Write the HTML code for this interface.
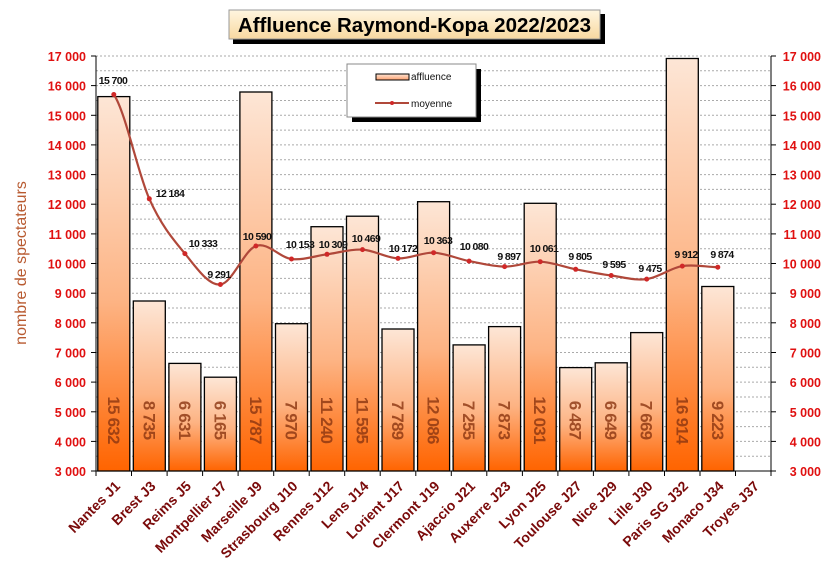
<!DOCTYPE html>
<html><head><meta charset="utf-8"><style>
html,body{margin:0;padding:0;background:#fff;}
svg{display:block;font-family:"Liberation Sans",sans-serif;}
.yl{font-size:12.5px;font-weight:bold;fill:#e01010;}
.xl{font-size:14px;font-weight:bold;fill:#7a0a0a;}
.ll{font-size:10.5px;font-weight:bold;fill:#111;letter-spacing:-0.6px;}
.bv{font-size:17px;font-weight:bold;fill:#8a3410;fill-opacity:0.8;letter-spacing:-0.8px;}
</style></head><body>
<svg width="825" height="571" viewBox="0 0 825 571">
<defs>
<linearGradient id="bg" x1="0" y1="0" x2="0" y2="1">
<stop offset="0" stop-color="#fde6d6"/><stop offset="0.55" stop-color="#fdb383"/><stop offset="1" stop-color="#ff6400"/>
</linearGradient>
<linearGradient id="tg" x1="0" y1="0" x2="0" y2="1">
<stop offset="0" stop-color="#fff6e0"/><stop offset="1" stop-color="#f8d8a0"/>
</linearGradient>
<linearGradient id="lg" x1="0" y1="0" x2="0" y2="1">
<stop offset="0" stop-color="#fde6d6"/><stop offset="1" stop-color="#fda070"/>
</linearGradient>
</defs>
<g stroke="#aaa" stroke-width="1" stroke-dasharray="2,2">
<line x1="96" x2="771" y1="56" y2="56"/><line x1="96" x2="771" y1="70.8" y2="70.8"/>
<line x1="96" x2="771" y1="85.6" y2="85.6"/><line x1="96" x2="771" y1="100.5" y2="100.5"/>
<line x1="96" x2="771" y1="115.3" y2="115.3"/><line x1="96" x2="771" y1="130.1" y2="130.1"/>
<line x1="96" x2="771" y1="144.9" y2="144.9"/><line x1="96" x2="771" y1="159.8" y2="159.8"/>
<line x1="96" x2="771" y1="174.6" y2="174.6"/><line x1="96" x2="771" y1="189.4" y2="189.4"/>
<line x1="96" x2="771" y1="204.2" y2="204.2"/><line x1="96" x2="771" y1="219.1" y2="219.1"/>
<line x1="96" x2="771" y1="233.9" y2="233.9"/><line x1="96" x2="771" y1="248.7" y2="248.7"/>
<line x1="96" x2="771" y1="263.5" y2="263.5"/><line x1="96" x2="771" y1="278.4" y2="278.4"/>
<line x1="96" x2="771" y1="293.2" y2="293.2"/><line x1="96" x2="771" y1="308" y2="308"/>
<line x1="96" x2="771" y1="322.8" y2="322.8"/><line x1="96" x2="771" y1="337.7" y2="337.7"/>
<line x1="96" x2="771" y1="352.5" y2="352.5"/><line x1="96" x2="771" y1="367.3" y2="367.3"/>
<line x1="96" x2="771" y1="382.1" y2="382.1"/><line x1="96" x2="771" y1="397" y2="397"/>
<line x1="96" x2="771" y1="411.8" y2="411.8"/><line x1="96" x2="771" y1="426.6" y2="426.6"/>
<line x1="96" x2="771" y1="441.4" y2="441.4"/><line x1="96" x2="771" y1="456.3" y2="456.3"/>
</g>
<g fill="url(#bg)" stroke="#000" stroke-width="1.3">
<rect x="97.8" y="96.6" width="32" height="374.4"/>
<rect x="133.3" y="301" width="32" height="170"/>
<rect x="168.9" y="363.4" width="32" height="107.6"/>
<rect x="204.4" y="377.2" width="32" height="93.8"/>
<rect x="239.9" y="92" width="32" height="379"/>
<rect x="275.5" y="323.7" width="32" height="147.3"/>
<rect x="311" y="226.7" width="32" height="244.3"/>
<rect x="346.5" y="216.2" width="32" height="254.8"/>
<rect x="382" y="329" width="32" height="142"/>
<rect x="417.6" y="201.7" width="32" height="269.3"/>
<rect x="453.1" y="344.9" width="32" height="126.1"/>
<rect x="488.6" y="326.6" width="32" height="144.4"/>
<rect x="524.2" y="203.3" width="32" height="267.7"/>
<rect x="559.7" y="367.6" width="32" height="103.4"/>
<rect x="595.2" y="362.8" width="32" height="108.2"/>
<rect x="630.7" y="332.6" width="32" height="138.4"/>
<rect x="666.3" y="58.5" width="32" height="412.5"/>
<rect x="701.8" y="286.5" width="32" height="184.5"/>
</g>
<g class="bv" text-anchor="middle">
<text transform="translate(107.8,420) rotate(90)">15 632</text>
<text transform="translate(143.3,420) rotate(90)">8 735</text>
<text transform="translate(178.9,420) rotate(90)">6 631</text>
<text transform="translate(214.4,420) rotate(90)">6 165</text>
<text transform="translate(249.9,420) rotate(90)">15 787</text>
<text transform="translate(285.5,420) rotate(90)">7 970</text>
<text transform="translate(321,420) rotate(90)">11 240</text>
<text transform="translate(356.5,420) rotate(90)">11 595</text>
<text transform="translate(392,420) rotate(90)">7 789</text>
<text transform="translate(427.6,420) rotate(90)">12 086</text>
<text transform="translate(463.1,420) rotate(90)">7 255</text>
<text transform="translate(498.6,420) rotate(90)">7 873</text>
<text transform="translate(534.2,420) rotate(90)">12 031</text>
<text transform="translate(569.7,420) rotate(90)">6 487</text>
<text transform="translate(605.2,420) rotate(90)">6 649</text>
<text transform="translate(640.7,420) rotate(90)">7 669</text>
<text transform="translate(676.3,420) rotate(90)">16 914</text>
<text transform="translate(711.8,420) rotate(90)">9 223</text>
</g>
<g stroke="#000" stroke-width="1">
<line x1="96" y1="56" x2="96" y2="471"/><line x1="771" y1="56" x2="771" y2="471"/>
<line x1="96" y1="471" x2="771" y2="471"/>
<line x1="91" x2="96" y1="56" y2="56"/><line x1="91" x2="96" y1="85.6" y2="85.6"/><line x1="91" x2="96" y1="115.3" y2="115.3"/><line x1="91" x2="96" y1="144.9" y2="144.9"/><line x1="91" x2="96" y1="174.6" y2="174.6"/><line x1="91" x2="96" y1="204.2" y2="204.2"/><line x1="91" x2="96" y1="233.9" y2="233.9"/><line x1="91" x2="96" y1="263.5" y2="263.5"/><line x1="91" x2="96" y1="293.2" y2="293.2"/><line x1="91" x2="96" y1="322.8" y2="322.8"/><line x1="91" x2="96" y1="352.5" y2="352.5"/><line x1="91" x2="96" y1="382.1" y2="382.1"/><line x1="91" x2="96" y1="411.8" y2="411.8"/><line x1="91" x2="96" y1="441.4" y2="441.4"/><line x1="91" x2="96" y1="471" y2="471"/>
<line x1="771" x2="776" y1="56" y2="56"/><line x1="771" x2="776" y1="85.6" y2="85.6"/><line x1="771" x2="776" y1="115.3" y2="115.3"/><line x1="771" x2="776" y1="144.9" y2="144.9"/><line x1="771" x2="776" y1="174.6" y2="174.6"/><line x1="771" x2="776" y1="204.2" y2="204.2"/><line x1="771" x2="776" y1="233.9" y2="233.9"/><line x1="771" x2="776" y1="263.5" y2="263.5"/><line x1="771" x2="776" y1="293.2" y2="293.2"/><line x1="771" x2="776" y1="322.8" y2="322.8"/><line x1="771" x2="776" y1="352.5" y2="352.5"/><line x1="771" x2="776" y1="382.1" y2="382.1"/><line x1="771" x2="776" y1="411.8" y2="411.8"/><line x1="771" x2="776" y1="441.4" y2="441.4"/><line x1="771" x2="776" y1="471" y2="471"/>
<line x1="96" x2="96" y1="471" y2="476"/><line x1="131.5" x2="131.5" y1="471" y2="476"/><line x1="167.1" x2="167.1" y1="471" y2="476"/><line x1="202.6" x2="202.6" y1="471" y2="476"/><line x1="238.1" x2="238.1" y1="471" y2="476"/><line x1="273.7" x2="273.7" y1="471" y2="476"/><line x1="309.2" x2="309.2" y1="471" y2="476"/><line x1="344.7" x2="344.7" y1="471" y2="476"/><line x1="380.2" x2="380.2" y1="471" y2="476"/><line x1="415.8" x2="415.8" y1="471" y2="476"/><line x1="451.3" x2="451.3" y1="471" y2="476"/><line x1="486.8" x2="486.8" y1="471" y2="476"/><line x1="522.4" x2="522.4" y1="471" y2="476"/><line x1="557.9" x2="557.9" y1="471" y2="476"/><line x1="593.4" x2="593.4" y1="471" y2="476"/><line x1="628.9" x2="628.9" y1="471" y2="476"/><line x1="664.5" x2="664.5" y1="471" y2="476"/><line x1="700" x2="700" y1="471" y2="476"/><line x1="735.5" x2="735.5" y1="471" y2="476"/><line x1="771" x2="771" y1="471" y2="476"/>
</g>
<g class="yl" text-anchor="end">
<text x="86" y="61">17 000</text><text x="86" y="90.6">16 000</text><text x="86" y="120.3">15 000</text><text x="86" y="149.9">14 000</text><text x="86" y="179.6">13 000</text><text x="86" y="209.2">12 000</text><text x="86" y="238.9">11 000</text><text x="86" y="268.5">10 000</text><text x="86" y="298.2">9 000</text><text x="86" y="327.8">8 000</text><text x="86" y="357.5">7 000</text><text x="86" y="387.1">6 000</text><text x="86" y="416.8">5 000</text><text x="86" y="446.4">4 000</text><text x="86" y="476">3 000</text>
</g>
<g class="yl" text-anchor="end">
<text x="821" y="61">17 000</text><text x="821" y="90.6">16 000</text><text x="821" y="120.3">15 000</text><text x="821" y="149.9">14 000</text><text x="821" y="179.6">13 000</text><text x="821" y="209.2">12 000</text><text x="821" y="238.9">11 000</text><text x="821" y="268.5">10 000</text><text x="821" y="298.2">9 000</text><text x="821" y="327.8">8 000</text><text x="821" y="357.5">7 000</text><text x="821" y="387.1">6 000</text><text x="821" y="416.8">5 000</text><text x="821" y="446.4">4 000</text><text x="821" y="476">3 000</text>
</g>
<text transform="translate(26,263) rotate(-90)" text-anchor="middle" font-size="16" fill="#b85a30">nombre de spectateurs</text>
<g class="xl" text-anchor="end">
<text transform="translate(121,487) rotate(-45)">Nantes J1</text>
<text transform="translate(156.5,487) rotate(-45)">Brest J3</text>
<text transform="translate(192,487) rotate(-45)">Reims J5</text>
<text transform="translate(227.5,487) rotate(-45)">Montpellier J7</text>
<text transform="translate(263,487) rotate(-45)">Marseille J9</text>
<text transform="translate(298.5,487) rotate(-45)">Strasbourg J10</text>
<text transform="translate(334,487) rotate(-45)">Rennes J12</text>
<text transform="translate(369.5,487) rotate(-45)">Lens J14</text>
<text transform="translate(405,487) rotate(-45)">Lorient J17</text>
<text transform="translate(440.5,487) rotate(-45)">Clermont J19</text>
<text transform="translate(476,487) rotate(-45)">Ajaccio J21</text>
<text transform="translate(511.5,487) rotate(-45)">Auxerre J23</text>
<text transform="translate(547,487) rotate(-45)">Lyon J25</text>
<text transform="translate(582.5,487) rotate(-45)">Toulouse J27</text>
<text transform="translate(618,487) rotate(-45)">Nice J29</text>
<text transform="translate(653.5,487) rotate(-45)">Lille J30</text>
<text transform="translate(689,487) rotate(-45)">Paris SG J32</text>
<text transform="translate(724.5,487) rotate(-45)">Monaco J34</text>
<text transform="translate(760,487) rotate(-45)">Troyes J37</text>
</g>
<path fill="none" stroke="#b0483a" stroke-width="2.2" d="M113.8,94.5 C125.6,111.9 137.5,172.3 149.3,198.8 C161.1,225.3 173.1,239.3 184.9,253.6 C196.7,267.9 208.6,285.8 220.4,284.5 C232.2,283.2 244.1,250.3 255.9,246.0 C267.7,241.7 279.7,257.6 291.5,259.0 C303.3,260.4 315.2,255.9 327.0,254.3 C338.8,252.7 350.7,248.9 362.5,249.6 C374.3,250.3 386.2,257.9 398.0,258.4 C409.8,258.9 421.8,252.3 433.6,252.7 C445.4,253.1 457.3,258.8 469.1,261.1 C480.9,263.4 492.8,266.5 504.6,266.6 C516.4,266.7 528.4,261.3 540.2,261.7 C552.0,262.1 563.9,267.0 575.7,269.3 C587.5,271.6 599.4,273.9 611.2,275.5 C623.0,277.1 634.9,280.7 646.7,279.1 C658.5,277.5 670.5,268.1 682.3,266.1 C694.1,264.1 706.0,267.0 717.8,267.2"/>
<g fill="#d02828">
<circle cx="113.8" cy="94.5" r="2.5"/><circle cx="149.3" cy="198.8" r="2.5"/><circle cx="184.9" cy="253.6" r="2.5"/><circle cx="220.4" cy="284.5" r="2.5"/><circle cx="255.9" cy="246" r="2.5"/><circle cx="291.5" cy="259" r="2.5"/><circle cx="327" cy="254.3" r="2.5"/><circle cx="362.5" cy="249.6" r="2.5"/><circle cx="398" cy="258.4" r="2.5"/><circle cx="433.6" cy="252.7" r="2.5"/><circle cx="469.1" cy="261.1" r="2.5"/><circle cx="504.6" cy="266.6" r="2.5"/><circle cx="540.2" cy="261.7" r="2.5"/><circle cx="575.7" cy="269.3" r="2.5"/><circle cx="611.2" cy="275.5" r="2.5"/><circle cx="646.7" cy="279.1" r="2.5"/><circle cx="682.3" cy="266.1" r="2.5"/><circle cx="717.8" cy="267.2" r="2.5"/>
</g>
<g class="ll" text-anchor="middle">
<text x="113" y="84">15 700</text><text x="170" y="197">12 184</text><text x="203" y="247">10 333</text><text x="219" y="278">9 291</text>
<text x="257" y="240">10 590</text><text x="300" y="248">10 153</text><text x="333" y="248">10 309</text><text x="366" y="242">10 469</text>
<text x="403" y="252">10 172</text><text x="438" y="244">10 363</text><text x="474" y="250">10 080</text><text x="509" y="260">9 897</text>
<text x="544" y="252">10 061</text><text x="580" y="260">9 805</text><text x="614" y="268">9 595</text><text x="650" y="272">9 475</text>
<text x="686" y="258">9 912</text><text x="722" y="258">9 874</text>
</g>
<rect x="352" y="69" width="129" height="53" fill="#000"/>
<rect x="347" y="64" width="129" height="53" fill="#fff" stroke="#888"/>
<rect x="376" y="74" width="33" height="6" fill="url(#lg)" stroke="#000"/>
<text x="411" y="80" font-size="10" fill="#111">affluence</text>
<line x1="375" y1="103" x2="409" y2="103" stroke="#b0483a" stroke-width="2"/>
<circle cx="392" cy="103" r="2" fill="#d02828"/>
<text x="411" y="107" font-size="10" fill="#111">moyenne</text>
<rect x="233" y="14" width="372" height="30" fill="#000"/>
<rect x="229" y="10" width="371" height="29" fill="url(#tg)" stroke="#999"/>
<text x="414.5" y="32" text-anchor="middle" font-size="20.5" font-weight="bold" fill="#000">Affluence Raymond-Kopa 2022/2023</text>
</svg>
</body></html>
